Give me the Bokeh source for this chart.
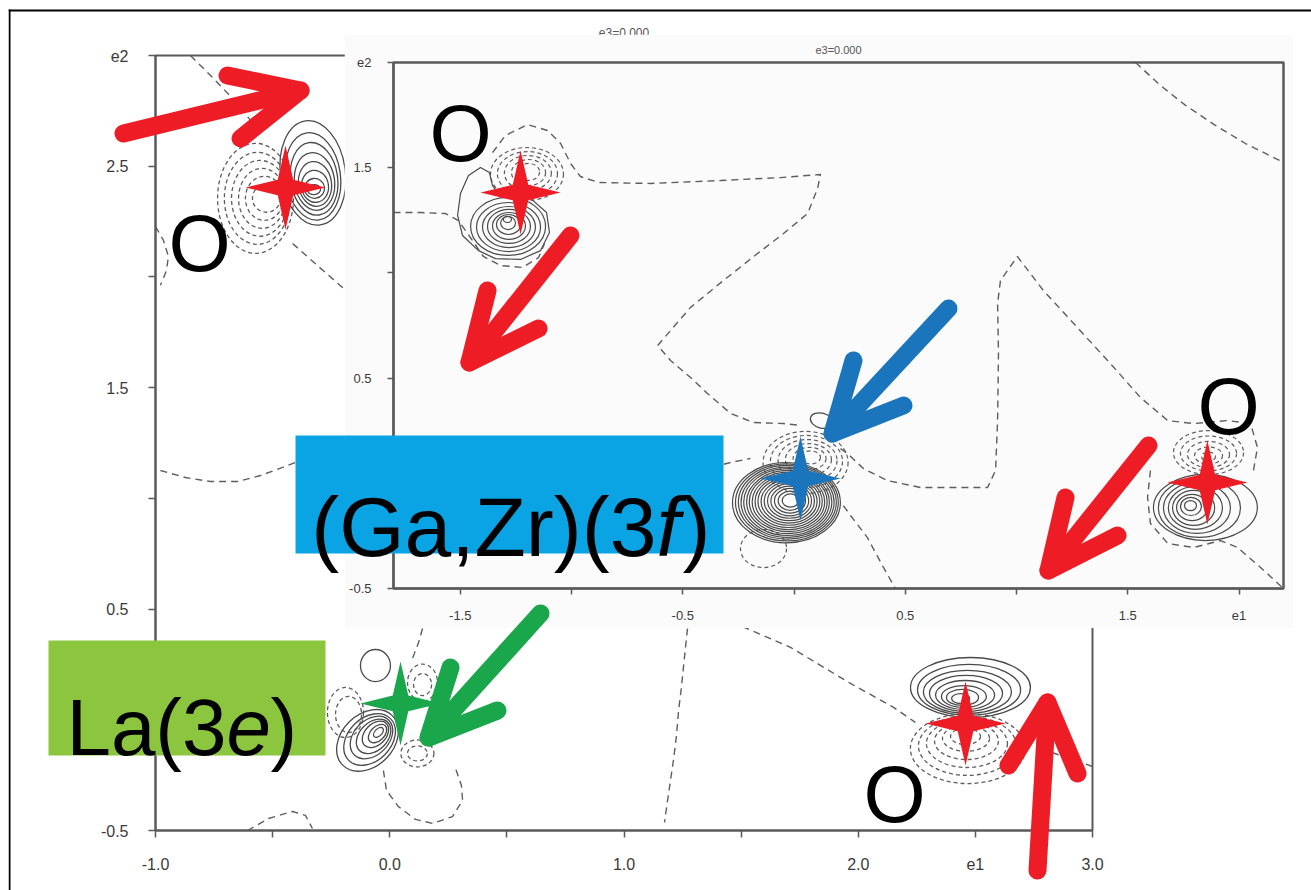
import numpy as np
from bokeh.plotting import figure
from bokeh.models import Range1d, FixedTicker, GridBox
from bokeh.core.properties import value
from bokeh.embed import file_html
from bokeh.resources import INLINE

# ---------------- axis ticks ----------------
OUT_XTICKS = [-1.0, 0.0, 1.0, 2.0, 2.5, 3.0]
OUT_XLABELS = ["-1.0", "0.0", "1.0", "2.0", "e1", "3.0"]
OUT_XMINOR = [-0.5, 0.5, 1.5]
OUT_YTICKS = [-0.5, 0.5, 1.5, 2.5, 3.0]
OUT_YLABELS = ["-0.5", "0.5", "1.5", "2.5", "e2"]
OUT_YMINOR = [0.0, 1.0, 2.0]

IN_XTICKS = [-1.5, -0.5, 0.5, 1.5, 2.0]
IN_XLABELS = ["-1.5", "-0.5", "0.5", "1.5", "e1"]
IN_XMINOR = [-1.0, 0.0, 1.0]
IN_YTICKS = [-0.5, 0.5, 1.5, 2.0]
IN_YLABELS = ["-0.5", "0.5", "1.5", "e2"]
IN_YMINOR = [0.0, 1.0]

TITLE_TEXT = "e3=0.000"

# ---------------- outer map: positive (solid) contours ----------------
OUT_POS_X = [-0.328, -0.328, -0.323, -0.321, -0.319, -0.319, -0.321, -0.323,
             -0.095, -0.086, -0.078, -0.069, -0.061, -0.052, -0.048, -0.061,
             2.479, 2.473, 2.466, 2.460, 2.456, 2.451, 2.445, 2.437]
OUT_POS_Y = [2.470, 2.454, 2.443, 2.431, 2.420, 2.409, 2.400, 2.394,
             -0.093, -0.089, -0.080, -0.075, -0.066, -0.062, -0.057, 0.245,
             0.146, 0.135, 0.126, 0.119, 0.112, 0.105, 0.101, 0.096]
OUT_POS_W = [0.277, 0.235, 0.201, 0.171, 0.141, 0.115, 0.085, 0.055,
             0.299, 0.252, 0.209, 0.171, 0.132, 0.094, 0.051, 0.128,
             0.512, 0.440, 0.376, 0.312, 0.252, 0.192, 0.137, 0.077]
OUT_POS_H = [0.474, 0.397, 0.330, 0.262, 0.203, 0.145, 0.090, 0.045,
             0.235, 0.194, 0.158, 0.126, 0.095, 0.063, 0.032, 0.145,
             0.271, 0.230, 0.194, 0.163, 0.131, 0.099, 0.072, 0.045]
OUT_POS_A = [8, 8, 8, 8, 8, 8, 8, 8,
             45, 45, 45, 45, 45, 45, 45, 0,
             0, 0, 0, 0, 0, 0, 0, 0]

# ---------------- outer map: negative (dashed) contours ----------------
OUT_NEG_X = [-0.573, -0.565, -0.554, -0.545, -0.535, -0.526,
             -0.189, -0.176, 0.140, 0.140, 0.118, 0.118,
             2.468, 2.466, 2.464, 2.462, 2.460, 2.458]
OUT_NEG_Y = [2.355, 2.355, 2.355, 2.355, 2.355, 2.355,
             0.033, 0.024, 0.168, 0.159, -0.152, -0.152,
             -0.130, -0.118, -0.107, -0.096, -0.084, -0.075]
OUT_NEG_W = [0.324, 0.282, 0.243, 0.201, 0.162, 0.120,
             0.154, 0.111, 0.128, 0.077, 0.141, 0.085,
             0.491, 0.418, 0.346, 0.273, 0.201, 0.128]
OUT_NEG_H = [0.497, 0.416, 0.343, 0.271, 0.199, 0.126,
             0.226, 0.163, 0.167, 0.099, 0.122, 0.068,
             0.316, 0.266, 0.217, 0.167, 0.117, 0.072]

# ---------------- outer map: zero lines ----------------
OUT_ZERO_XS = [
    [-0.851, -0.765, -0.671, -0.594],
    [-0.415, -0.304, -0.197],
    [-1.0, -0.966, -0.945, -0.953, -0.979],
    [-0.979, -0.872, -0.765, -0.650, -0.552, -0.402, -0.253],
    [0.140, 0.123, 0.097],
    [-0.027, -0.014, 0.037, 0.110, 0.183, 0.268, 0.311, 0.306, 0.281],
    [-0.607, -0.518, -0.415, -0.360, -0.330],
    [1.271, 1.258, 1.245, 1.233, 1.224, 1.211, 1.194, 1.177, 1.173],
    [1.506, 1.711, 1.967, 2.151, 2.244],
    [2.778, 2.962, 3.0],
]
OUT_ZERO_YS = [
    [3.0, 2.910, 2.806, 2.707],
    [2.151, 2.047, 1.948],
    [2.228, 2.165, 2.093, 2.029, 1.962],
    [1.126, 1.094, 1.076, 1.076, 1.103, 1.162, 1.207],
    [0.412, 0.349, 0.277],
    [-0.229, -0.319, -0.392, -0.450, -0.468, -0.437, -0.364, -0.297, -0.220],
    [-0.5, -0.446, -0.414, -0.432, -0.491],
    [0.412, 0.281, 0.146, 0.042, -0.071, -0.184, -0.306, -0.432, -0.464],
    [0.421, 0.327, 0.164, 0.056, -0.012],
    [-0.130, -0.197, -0.211],
]

OUT_ATOM_X = [-0.445, 0.046, 2.458]
OUT_ATOM_Y = [2.404, 0.074, -0.017]
OUT_ATOM_C = ["#ee1c24", "#1aa64b", "#ee1c24"]

# ---------------- inner map: positive (solid) contours ----------------
IN_POS_X = [-1.285, -1.283, -1.281, -1.281, -1.281, -1.283, -1.285, -1.288,
            -0.034, -0.032, -0.030, -0.029, -0.028, -0.027, -0.026, -0.025, -0.024,
            -0.023, -0.022, -0.021, -0.020, -0.019, -0.018, -0.017, -0.016, 0.124,
            1.849, 1.822, 1.811, 1.804, 1.796, 1.789, 1.784, 1.782]
IN_POS_Y = [1.221, 1.218, 1.218, 1.221, 1.223, 1.230, 1.237, 1.254,
            -0.092, -0.091, -0.090, -0.090, -0.089, -0.089, -0.088, -0.088, -0.087,
            -0.086, -0.086, -0.085, -0.084, -0.084, -0.083, -0.083, -0.082, 0.298,
            -0.115, -0.117, -0.117, -0.117, -0.117, -0.115, -0.110, -0.106]
IN_POS_W = [0.337, 0.288, 0.238, 0.193, 0.148, 0.108, 0.067, 0.036,
            0.485, 0.462, 0.440, 0.418, 0.396, 0.372, 0.350, 0.326, 0.302,
            0.278, 0.252, 0.226, 0.198, 0.170, 0.140, 0.108, 0.074, 0.103,
            0.467, 0.369, 0.301, 0.243, 0.189, 0.139, 0.094, 0.054]
IN_POS_H = [0.276, 0.233, 0.195, 0.162, 0.128, 0.095, 0.062, 0.029,
            0.382, 0.366, 0.350, 0.334, 0.318, 0.300, 0.283, 0.265, 0.246,
            0.227, 0.207, 0.186, 0.164, 0.141, 0.117, 0.091, 0.063, 0.071,
            0.314, 0.280, 0.242, 0.204, 0.166, 0.124, 0.086, 0.048]
IN_POS_A = [0] * 8 + [0] * 17 + [-15] + [0] * 8

IN_POS_LINE_X = [-1.418, -1.490, -1.512, -1.499, -1.463, -1.409, -1.369, -1.355,
                 -1.319, -1.184, -1.112, -1.099, -1.139, -1.229, -1.342, -1.418]
IN_POS_LINE_Y = [1.106, 1.178, 1.273, 1.377, 1.463, 1.501, 1.477, 1.415,
                 1.363, 1.354, 1.287, 1.192, 1.106, 1.064, 1.068, 1.106]

# ---------------- inner map: negative (dashed) contours ----------------
IN_NEG_X = [-1.200, -1.198, -1.196, -1.193, -1.193,
            0.052, 0.056, 0.061, 0.065, 0.070, 0.074, -0.137,
            1.863, 1.863, 1.863, 1.863, 1.863]
IN_NEG_Y = [1.470, 1.472, 1.475, 1.477, 1.480,
            0.099, 0.104, 0.108, 0.113, 0.118, 0.123, -0.310,
            0.146, 0.142, 0.137, 0.132, 0.127]
IN_NEG_W = [0.328, 0.270, 0.211, 0.153, 0.099,
            0.382, 0.324, 0.265, 0.207, 0.148, 0.090, 0.207,
            0.315, 0.252, 0.189, 0.126, 0.063]
IN_NEG_H = [0.252, 0.209, 0.166, 0.124, 0.081,
            0.295, 0.247, 0.200, 0.152, 0.105, 0.062, 0.181,
            0.209, 0.166, 0.124, 0.081, 0.043]

# ---------------- inner map: zero lines ----------------
IN_ZERO_XS = [
    [-1.8, -1.679, -1.566, -1.508, -1.454, -1.396, -1.319, -1.220, -1.148, -1.121],
    [-1.355, -1.297, -1.198, -1.108, -1.049, -1.004, -0.960, -0.879, -0.645, -0.330,
     -0.061, 0.119, 0.106, 0.061, -0.047, -0.164, -0.317, -0.465, -0.613, -0.555,
     -0.465, -0.389, -0.285, -0.182, -0.047, 0.029],
    [0.209, 0.240, 0.312, 0.420, 0.569, 0.717, 0.870, 0.906, 0.915, 0.919, 0.915,
     0.928, 1.004, 1.121, 1.274, 1.422, 1.557, 1.680, 1.796, 1.948, 2.052, 2.083, 2.065],
    [1.602, 1.589, 1.602, 1.680, 1.796, 1.917, 1.993, 2.097, 2.2],
    [0.222, 0.254, 0.330, 0.402, 0.456],
    [-0.420, -0.285, -0.196],
    [1.535, 1.647, 1.760, 1.894, 2.029, 2.2],
]
IN_ZERO_YS = [
    [1.287, 1.287, 1.282, 1.249, 1.168, 1.078, 1.035, 1.026, 1.073, 1.140],
    [1.572, 1.653, 1.705, 1.677, 1.615, 1.520, 1.458, 1.430, 1.425, 1.439,
     1.453, 1.468, 1.401, 1.282, 1.187, 1.092, 0.964, 0.836, 0.655, 0.584,
     0.503, 0.427, 0.332, 0.289, 0.284, 0.275],
    [0.165, 0.142, 0.070, 0.013, -0.020, -0.020, -0.020, 0.061, 0.298, 0.617, 0.855,
     0.964, 1.078, 0.916, 0.740, 0.569, 0.408, 0.298, 0.284, 0.298, 0.284, 0.170, 0.061],
    [0.061, -0.067, -0.191, -0.286, -0.305, -0.272, -0.305, -0.400, -0.5],
    [-0.106, -0.153, -0.258, -0.400, -0.5],
    [0.061, 0.099, 0.118],
    [2.0, 1.891, 1.796, 1.701, 1.615, 1.525],
]

IN_ATOM_X = [-1.229, 0.029, 1.858]
IN_ATOM_Y = [1.382, 0.023, 0.004]
IN_ATOM_C = ["#ee1c24", "#1b75bc", "#ee1c24"]

# ---------------- annotation labels ----------------
BOX_TEXT_GA = ["(Ga,Zr)(3", "f", ")"]
BOX_TEXT_LA = ["La(3", "e", ")"]
ATOM_LABEL = "O"

# ======================================================================
FONT_TICK = "Liberation Sans"
AX_COL = "#5a5a5a"
POS_COL = "#4a4a4a"
NEG_COL = "#5e5e5e"


def style_axes(p, xt, xl, xm, yt, yl, ym, fs, standoff, tick):
    p.xaxis.ticker = FixedTicker(ticks=xt, minor_ticks=xm)
    p.yaxis.ticker = FixedTicker(ticks=yt, minor_ticks=ym)
    p.xaxis.major_label_overrides = {float(t): s for t, s in zip(xt, xl)}
    p.yaxis.major_label_overrides = {float(t): s for t, s in zip(yt, yl)}
    for ax in p.axis:
        ax.axis_line_color = AX_COL
        ax.axis_line_width = 2
        ax.major_tick_line_color = AX_COL
        ax.major_tick_line_width = 1.5
        ax.major_tick_out = tick
        ax.major_tick_in = 0
        ax.minor_tick_line_color = AX_COL
        ax.minor_tick_line_width = 1.5
        ax.minor_tick_out = tick
        ax.minor_tick_in = 0
        ax.major_label_text_font = FONT_TICK
        ax.major_label_text_font_size = fs
        ax.major_label_text_color = "#3a3a3a"
        ax.major_label_standoff = standoff
    p.xgrid.visible = False
    p.ygrid.visible = False
    p.outline_line_color = AX_COL
    p.outline_line_width = 2


def style_title(p, fs, standoff):
    p.title.text = TITLE_TEXT
    p.title.align = "center"
    p.title.text_font = FONT_TICK
    p.title.text_font_size = fs
    p.title.text_font_style = "normal"
    p.title.text_color = "#555555"
    p.title.standoff = standoff


def star_shapes(xs, ys, sx, sy, rh=40, rv=42, ri=11):
    out_x, out_y = [], []
    for cx, cy in zip(xs, ys):
        px, py = [], []
        for k in range(8):
            ang = np.pi / 4 * k
            if k % 2 == 0:
                rad_x, rad_y = rh, rv
            else:
                rad_x, rad_y = ri, ri
            px.append(cx + rad_x * np.cos(ang) / sx)
            py.append(cy + rad_y * np.sin(ang) / sy)
        out_x.append(px)
        out_y.append(py)
    return out_x, out_y


# ---------------- outer figure ----------------
OFW, OFH = 937, 775
ox0, ox1, oy0, oy1 = -1.0, 3.0, -0.5, 3.0
po = figure(frame_width=OFW, frame_height=OFH,
            x_range=Range1d(ox0, ox1), y_range=Range1d(oy0, oy1),
            min_border_left=147, min_border_right=219, min_border_top=47, min_border_bottom=60,
            output_backend="svg", toolbar_location=None, frame_align=False,
            background_fill_color="white", border_fill_color="white")
po.margin = (8, 0, 0, 8)
style_axes(po, OUT_XTICKS, OUT_XLABELS, OUT_XMINOR, OUT_YTICKS, OUT_YLABELS, OUT_YMINOR,
           "16px", 20, 7)
style_title(po, "12px", 31)

po.ellipse(x=OUT_NEG_X, y=OUT_NEG_Y, width=OUT_NEG_W, height=OUT_NEG_H,
           fill_color=None, line_color=NEG_COL, line_width=1.3, line_dash="4 3")
po.ellipse(x=OUT_POS_X, y=OUT_POS_Y, width=OUT_POS_W, height=OUT_POS_H,
           angle=OUT_POS_A, angle_units="deg",
           fill_color=None, line_color=POS_COL, line_width=1.3)
po.multi_line(xs=OUT_ZERO_XS, ys=OUT_ZERO_YS, line_color=NEG_COL, line_width=1.4,
              line_dash="7 5")
sxo, syo = OFW / (ox1 - ox0), OFH / (oy1 - oy0)
stx, sty = star_shapes(OUT_ATOM_X, OUT_ATOM_Y, sxo, syo)
po.patches(xs=stx, ys=sty, fill_color=OUT_ATOM_C, line_color=None)

# ---------------- inner figure ----------------
IFW, IFH = 890, 526
ix0, ix1, iy0, iy1 = -1.8, 2.2, -0.5, 2.0
pi = figure(frame_width=IFW, frame_height=IFH,
            x_range=Range1d(ix0, ix1), y_range=Range1d(iy0, iy1),
            min_border_left=49, min_border_right=10, min_border_top=28, min_border_bottom=40,
            output_backend="svg", toolbar_location=None, frame_align=False,
            background_fill_color="#fbfbfb", border_fill_color="#fbfbfb")
pi.margin = (34, 0, 0, 344)
style_axes(pi, IN_XTICKS, IN_XLABELS, IN_XMINOR, IN_YTICKS, IN_YLABELS, IN_YMINOR,
           "13px", 16, 6)
style_title(pi, "11px", 13)
pi.outline_line_width = 2.5

pi.ellipse(x=IN_NEG_X, y=IN_NEG_Y, width=IN_NEG_W, height=IN_NEG_H,
           fill_color=None, line_color=NEG_COL, line_width=1.2, line_dash="4 3")
pi.ellipse(x=IN_POS_X, y=IN_POS_Y, width=IN_POS_W, height=IN_POS_H,
           angle=IN_POS_A, angle_units="deg",
           fill_color=None, line_color=POS_COL, line_width=1.2)
pi.line(x=IN_POS_LINE_X, y=IN_POS_LINE_Y, line_color=POS_COL, line_width=1.2)
pi.multi_line(xs=IN_ZERO_XS, ys=IN_ZERO_YS, line_color=NEG_COL, line_width=1.4,
              line_dash="7 5")
sxi, syi = IFW / (ix1 - ix0), IFH / (iy1 - iy0)
stx, sty = star_shapes(IN_ATOM_X, IN_ATOM_Y, sxi, syi)
pi.patches(xs=stx, ys=sty, fill_color=IN_ATOM_C, line_color=None)

# ---------------- overlay (annotations, page pixel space) ----------------
pv = figure(frame_width=1303, frame_height=882,
            x_range=Range1d(8, 1311), y_range=Range1d(890, 8),
            min_border=0, x_axis_location=None, y_axis_location=None,
            output_backend="svg", toolbar_location=None, frame_align=False)
pv.margin = (8, 0, 0, 8)
pv.background_fill_alpha = 0
pv.border_fill_alpha = 0
pv.outline_line_color = None
pv.grid.visible = False

# page frame
pv.multi_line(xs=[[9, 9], [8, 1311]], ys=[[890, 9], [10, 10]], line_color="black", line_width=2)

# label boxes
pv.quad(left=[295, 48], right=[723, 325], top=[435, 640], bottom=[553, 755],
        fill_color=["#0aa3e3", "#8cc63f"], line_color=None)

big = value("84px")
pv.text(x=[656], y=[526], text=[BOX_TEXT_GA[0]], text_align="right", text_baseline="alphabetic",
        text_font=value("Liberation Sans"), text_font_size=big, text_color="black")
pv.text(x=[656], y=[526], text=[BOX_TEXT_GA[1]], text_align="left", text_baseline="alphabetic",
        text_font=value("Liberation Sans"), text_font_size=big, text_font_style="italic",
        text_color="black")
pv.text(x=[682], y=[526], text=[BOX_TEXT_GA[2]], text_align="left", text_baseline="alphabetic",
        text_font=value("Liberation Sans"), text_font_size=big, text_color="black")

mid = value("80px")
pv.text(x=[226], y=[727], text=[BOX_TEXT_LA[0]], text_align="right", text_baseline="alphabetic",
        text_font=value("Liberation Sans"), text_font_size=mid, text_color="black")
pv.text(x=[226], y=[727], text=[BOX_TEXT_LA[1]], text_align="left", text_baseline="alphabetic",
        text_font=value("Liberation Sans"), text_font_size=mid, text_font_style="italic",
        text_color="black")
pv.text(x=[270], y=[727], text=[BOX_TEXT_LA[2]], text_align="left", text_baseline="alphabetic",
        text_font=value("Liberation Sans"), text_font_size=mid, text_color="black")

# "O" atom labels
pv.text(x=[199, 460, 1228, 894], y=[243, 133, 406, 794], text=[ATOM_LABEL] * 4,
        text_align="center", text_baseline="alphabetic",
        text_font=value("Liberation Sans"), text_font_size=value("80px"),
        text_color="black")

# arrows: tail->tip shaft plus two wings
ARROW_TAIL = [(123, 133), (570, 235), (948, 308), (1148, 445), (540, 613), (1037, 870)]
ARROW_TIP = [(300, 90), (469, 362), (832, 433), (1048, 570), (428, 737), (1047, 702)]
ARROW_W1 = [(227, 75), (487, 290), (853, 360), (1065, 497), (450, 667), (1008, 765)]
ARROW_W2 = [(240, 138), (538, 328), (903, 405), (1117, 535), (497, 710), (1077, 773)]
ARROW_COL = ["#ee1c24", "#ee1c24", "#1b75bc", "#ee1c24", "#1aa64b", "#ee1c24"]
axs, ays, acs = [], [], []
for t, h, w1, w2, c in zip(ARROW_TAIL, ARROW_TIP, ARROW_W1, ARROW_W2, ARROW_COL):
    axs += [[t[0], h[0]], [w1[0], h[0], w2[0]]]
    ays += [[t[1], h[1]], [w1[1], h[1], w2[1]]]
    acs += [c, c]
pv.multi_line(xs=axs, ys=ays, line_color=acs, line_width=18,
              line_cap="round", line_join="round")

layout = GridBox(children=[(po, 0, 0), (pi, 0, 0), (pv, 0, 0)])

open("out.html", "w").write(file_html(layout, INLINE))
